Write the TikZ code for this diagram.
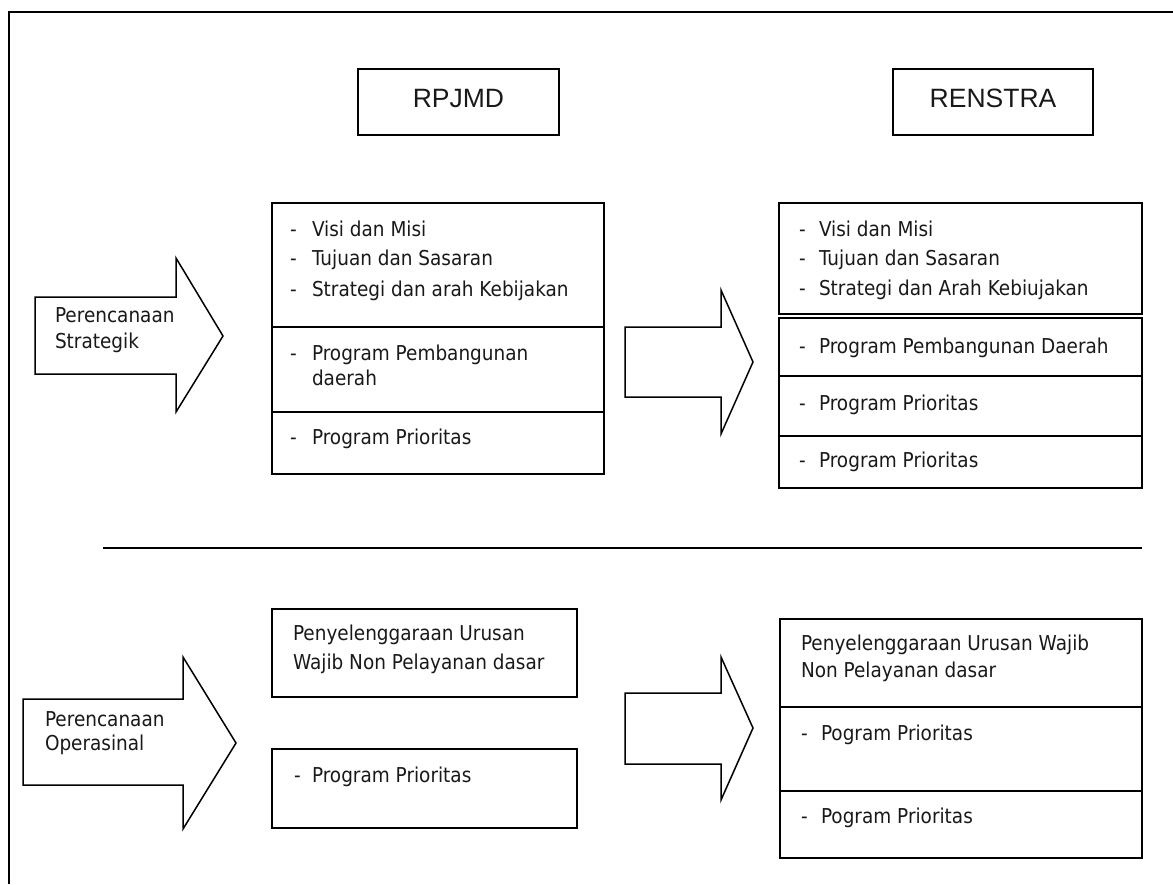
\documentclass[tikz,border=0pt]{standalone}
\usepackage{fontspec}
\newfontfamily\bodyfont[FakeStretch=0.9]{DejaVu Sans}
\newfontfamily\headfont{Liberation Sans}
\begin{document}
\begin{tikzpicture}[x=1pt,y=-1pt,
  line width=1.5pt,
  box/.style={draw=black,line width=1.5pt,inner sep=0pt,outer sep=0pt},
  txt/.style={anchor=base west,inner sep=0pt,outer sep=0pt,font=\bodyfont\fontsize{20.5}{24}\selectfont,text=black!90},
  head/.style={anchor=base,inner sep=0pt,font=\headfont\fontsize{26.5}{30}\selectfont,text=black!90},
  blockarrow/.style={draw=black,line width=1.5pt,fill=white,line join=miter}]
\useasboundingbox (0,0) rectangle (1173,884);
% outer frame
\coordinate (frTR) at (1173,12);
\coordinate (frTL) at (9,12);
\coordinate (frBL) at (9,884);
\draw[line width=1.6pt] (frTR) -- (frTL) -- (frBL);
% separator
\coordinate (sepL) at (103,548);
\coordinate (sepR) at (1142,548);
\draw[line width=1.4pt] (sepL) -- (sepR);

% headers
\node[box,minimum width=201pt,minimum height=66pt] (h1) at (458.5,102) {};
\node[head] (h1t) at (458.5,107.5) {RPJMD};
\node[box,minimum width=200pt,minimum height=66pt] (h2) at (993,102) {};
\node[head] (h2t) at (993,107.5) {RENSTRA};

% top-left boxes
\node[box,minimum width=332pt,minimum height=124pt] (tl1) at (438,265) {};
\node[box,minimum width=332pt,minimum height=85pt] (tl2) at (438,369.5) {};
\node[box,minimum width=332pt,minimum height=62pt] (tl3) at (438,443) {};
\node[txt] (tl1d1) at (290,236) {-};
\node[txt] (tl1a) at (312,236) {Visi dan Misi};
\node[txt] (tl1d2) at (290,265) {-};
\node[txt] (tl1b) at (312,265) {Tujuan dan Sasaran};
\node[txt] (tl1d3) at (290,296) {-};
\node[txt] (tl1c) at (312,296) {Strategi dan arah Kebijakan};
\node[txt] (tl2d) at (290,360) {-};
\node[txt] (tl2a) at (312,360) {Program Pembangunan};
\node[txt] (tl2b) at (312,385) {daerah};
\node[txt] (tl3d) at (290,444) {-};
\node[txt] (tl3a) at (312,444) {Program Prioritas};

% top-right boxes
\node[box,minimum width=363pt,minimum height=111pt] (tr1) at (960.5,258.5) {};
\node[box,minimum width=363pt,minimum height=58pt] (tr2) at (960.5,347) {};
\node[box,minimum width=363pt,minimum height=60pt] (tr3) at (960.5,406) {};
\node[box,minimum width=363pt,minimum height=52pt] (tr4) at (960.5,462) {};
\node[txt] (tr1d1) at (799,236) {-};
\node[txt] (tr1a) at (819,236) {Visi dan Misi};
\node[txt] (tr1d2) at (799,265) {-};
\node[txt] (tr1b) at (819,265) {Tujuan dan Sasaran};
\node[txt] (tr1d3) at (799,295) {-};
\node[txt] (tr1c) at (819,295) {Strategi dan Arah Kebiujakan};
\node[txt] (tr2d) at (799,353) {-};
\node[txt] (tr2a) at (819,353) {Program Pembangunan Daerah};
\node[txt] (tr3d) at (799,410) {-};
\node[txt] (tr3a) at (819,410) {Program Prioritas};
\node[txt] (tr4d) at (799,467) {-};
\node[txt] (tr4a) at (819,467) {Program Prioritas};

% bottom-left boxes
\node[box,minimum width=305pt,minimum height=88pt] (bl1) at (424.5,653) {};
\node[box,minimum width=305pt,minimum height=79pt] (bl2) at (424.5,788.5) {};
\node[txt] (bl1a) at (293,640) {Penyelenggaraan Urusan};
\node[txt] (bl1b) at (293,669) {Wajib Non Pelayanan dasar};
\node[txt] (bl2d) at (294,782) {-};
\node[txt] (bl2a) at (312,782) {Program Prioritas};

% bottom-right boxes
\node[box,minimum width=362pt,minimum height=88pt] (br1) at (961,663) {};
\node[box,minimum width=362pt,minimum height=84pt] (br2) at (961,749) {};
\node[box,minimum width=362pt,minimum height=67pt] (br3) at (961,824.5) {};
\node[txt] (br1a) at (801,650) {Penyelenggaraan Urusan Wajib};
\node[txt] (br1b) at (801,677) {Non Pelayanan dasar};
\node[txt] (br2d) at (801,740) {-};
\node[txt] (br2a) at (821,740) {Pogram Prioritas};
\node[txt] (br3d) at (801,823) {-};
\node[txt] (br3a) at (821,823) {Pogram Prioritas};

% block arrows
\draw[blockarrow] (35,297) -- (176,297) -- (176,258) -- (223,336) -- (176,412) -- (176,374) -- (35,374) -- cycle;
\node[txt] (a1a) at (55,322.5) {Perencanaan};
\node[txt] (a1b) at (55,348.5) {Strategik};

\draw[blockarrow] (625,327) -- (721,327) -- (721,290) -- (753,362) -- (721,434) -- (721,397) -- (625,397) -- cycle;

\draw[blockarrow] (23,699) -- (183,699) -- (183,657) -- (236,743) -- (183,829) -- (183,785) -- (23,785) -- cycle;
\node[txt] (a3a) at (45,726.5) {Perencanaan};
\node[txt] (a3b) at (45,750.5) {Operasinal};

\draw[blockarrow] (625,693) -- (721,693) -- (721,657) -- (753,728) -- (721,800) -- (721,764) -- (625,764) -- cycle;
\end{tikzpicture}
\end{document}
